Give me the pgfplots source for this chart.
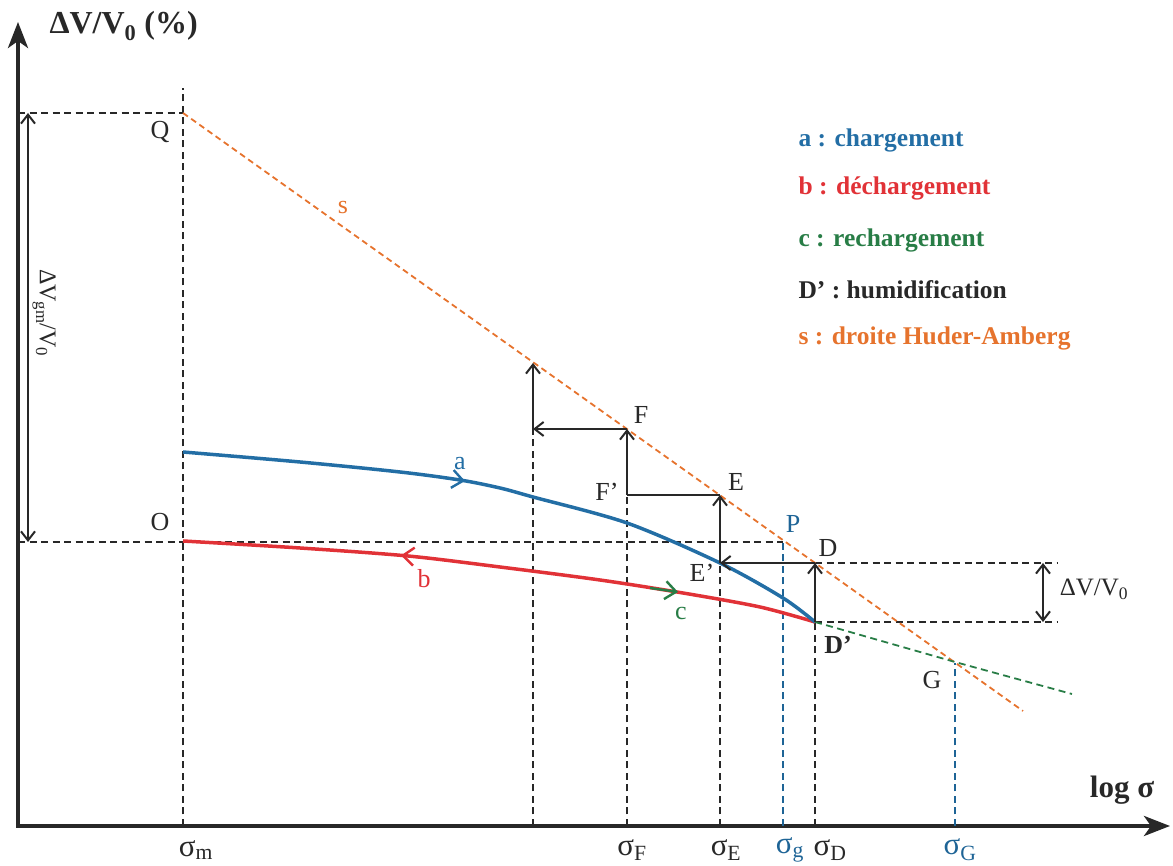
\documentclass[border=0pt]{standalone}
\usepackage{pgfplots}
\pgfplotsset{compat=1.18}
\usepackage{fontspec}
\setmainfont{Liberation Serif}
\usetikzlibrary{arrows.meta}
\definecolor{cblue}{RGB}{35,110,165}
\definecolor{cred}{RGB}{225,50,55}
\definecolor{cgreen}{RGB}{40,125,70}
\definecolor{corange}{RGB}{230,115,45}
\definecolor{cdark}{RGB}{40,40,40}
\definecolor{cteal}{RGB}{30,100,150}
\newcommand\sub[1]{\textsubscript{#1}}
\begin{document}
\begin{tikzpicture}[
  dsh/.style={cdark, line width=1.8pt, dash pattern=on 7pt off 4.5pt},
  dshb/.style={cteal, line width=1.8pt, dash pattern=on 7pt off 4.5pt},
  arr/.style={cdark, line width=2pt, -{Straight Barb[length=9pt,width=14pt,line width=2pt]}},
  lab/.style={font=\fontsize{26}{30}\selectfont, text=cdark},
  leg/.style={font=\fontsize{25.5}{29}\selectfont\bfseries, anchor=west},
  sig/.style={font=\fontsize{31}{34}\selectfont, text=cdark}]
\begin{axis}[scale only axis, width=1173pt, height=866pt,
  xmin=0, xmax=1173, ymin=0, ymax=866, hide axis, clip=false]
% bounding box
\addplot[draw=none] coordinates {(0,0) (1173,866)};
% axes
\addplot[cdark, line width=4pt, -{Stealth[length=26pt,width=20pt,inset=7pt]}] coordinates {(18,38) (18,844)};
\addplot[cdark, line width=4pt, -{Stealth[length=26pt,width=20pt,inset=7pt]}] coordinates {(16,40) (1170,40)};
% dashed guide lines
\addplot[dsh] coordinates {(183,40) (183,778)};
\addplot[dsh] coordinates {(18,753) (183,753)};
\addplot[dsh] coordinates {(18,324) (783,324)};
\addplot[dsh] coordinates {(533,40) (533,437)};
\addplot[dsh] coordinates {(627,40) (627,371)};
\addplot[dsh] coordinates {(720,40) (720,303)};
\addplot[dsh] coordinates {(815,40) (815,244)};
\addplot[dsh] coordinates {(815,303) (1057,303)};
\addplot[dsh] coordinates {(815,244) (1057,244)};
\addplot[dshb] coordinates {(783,40) (783,325)};
\addplot[dshb] coordinates {(955,40) (955,203)};
% Huder-Amberg line s
\addplot[corange, line width=1.8pt, dash pattern=on 6pt off 4pt] coordinates {(183,753) (1023,155)};
% rechargement dashed green
\addplot[cgreen, line width=1.8pt, dash pattern=on 7pt off 4.5pt] coordinates {(815,244) (955,204) (1072,172)};
% curve b (red)
\addplot[cred, line width=3.5pt, smooth] coordinates {(183,325) (300,318) (408,310) (500,299) (600,286) (683,273) (760,259) (815,244)};
% curve a (blue)
\addplot[cblue, line width=3.5pt, smooth] coordinates {(183,414) (300,404) (400,394) (460,386) (500,378) (533,369) (627,343) (720,303) (783,268) (815,244)};
% chevrons on curves
\addplot[cblue, line width=2.4pt, -{Straight Barb[length=11pt,width=18pt,line width=2.4pt]}] coordinates {(440,389) (465,385)};
\addplot[cred, line width=2.4pt, -{Straight Barb[length=11pt,width=18pt,line width=2.4pt]}] coordinates {(428,308) (401,310.6)};
\addplot[cgreen, line width=2.4pt, -{Straight Barb[length=11pt,width=18pt,line width=2.4pt]}] coordinates {(650,278) (678,274)};
% step arrows
\addplot[arr] coordinates {(627,437) (533,437)};
\addplot[arr] coordinates {(533,437) (533,503)};
\addplot[arr] coordinates {(627,371) (627,437)};
\addplot[cdark, line width=2pt] coordinates {(627,371) (720,371)};
\addplot[arr] coordinates {(720,303) (720,371)};
\addplot[arr] coordinates {(815,303) (720,303)};
\addplot[arr] coordinates {(815,244) (815,303)};
% double arrows
\addplot[cdark, line width=2pt, {Straight Barb[length=9pt,width=14pt,line width=2pt]}-{Straight Barb[length=9pt,width=14pt,line width=2pt]}] coordinates {(1043,244) (1043,303)};
\addplot[cdark, line width=2pt, {Straight Barb[length=9pt,width=14pt,line width=2pt]}-{Straight Barb[length=9pt,width=14pt,line width=2pt]}] coordinates {(28,324) (28,753)};
% labels
\node[font=\fontsize{32}{36}\selectfont\bfseries, text=cdark, anchor=west] at (axis cs:46,840) {ΔV/V\sub{0} (\%)};
\node[lab] at (axis cs:160,734) {Q};
\node[lab] at (axis cs:160,344) {O};
\node[lab, text=corange] at (axis cs:343,658) {s};
\node[lab] at (axis cs:641,451) {F};
\node[lab] at (axis cs:607,374) {F’};
\node[lab] at (axis cs:736,384) {E};
\node[lab] at (axis cs:702,293) {E’};
\node[lab, text=cteal] at (axis cs:793,342) {P};
\node[lab] at (axis cs:828,318) {D};
\node[lab, font=\fontsize{26}{30}\selectfont\bfseries] at (axis cs:838,221) {D’};
\node[lab] at (axis cs:932,186) {G};
\node[lab, text=cblue] at (axis cs:460,402) {a};
\node[lab, text=cred] at (axis cs:424,287) {b};
\node[lab, text=cgreen] at (axis cs:681,252) {c};
\node[font=\fontsize{24}{28}\selectfont, text=cdark, rotate=-90] at (axis cs:44,553) {ΔV\sub{gm}/V\sub{0}};
\node[font=\fontsize{25}{28}\selectfont, text=cdark] at (axis cs:1094,277) {ΔV/V\sub{0}};
\node[sig] at (axis cs:196,16) {σ\sub{m}};
\node[sig] at (axis cs:632,16) {σ\sub{F}};
\node[sig] at (axis cs:726,16) {σ\sub{E}};
\node[sig, text=cteal] at (axis cs:790,16) {σ\sub{g}};
\node[sig] at (axis cs:830,16) {σ\sub{D}};
\node[sig, text=cteal] at (axis cs:960,16) {σ\sub{G}};
\node[font=\fontsize{31}{34}\selectfont\bfseries, text=cdark] at (axis cs:1122,76) {log σ};
% legend
\node[leg, text=cblue] at (axis cs:795,726) {a : chargement};
\node[leg, text=cred] at (axis cs:795,678) {b : déchargement};
\node[leg, text=cgreen] at (axis cs:795,626) {c : rechargement};
\node[leg, text=cdark] at (axis cs:795,576) {D’ : humidification};
\node[leg, text=corange] at (axis cs:795,528) {s : droite Huder-Amberg};
\end{axis}
\end{tikzpicture}
\end{document}
